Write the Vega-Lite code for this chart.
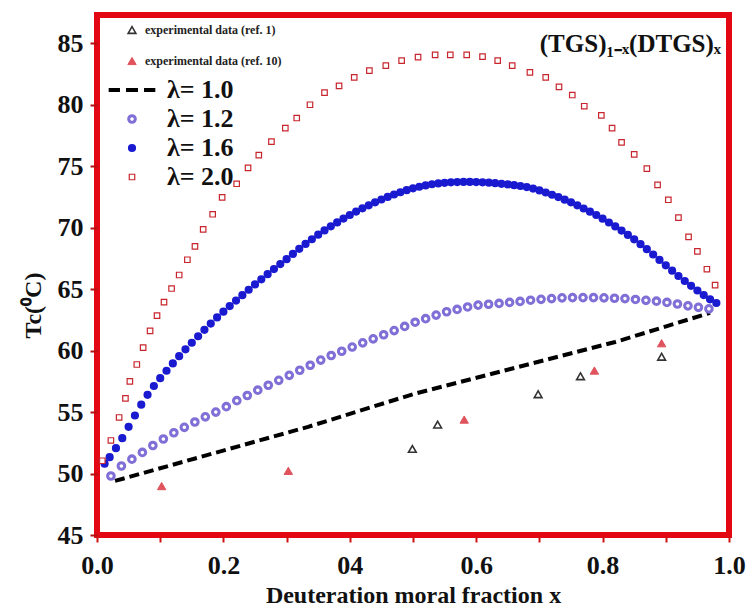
{
  "$schema": "https://vega.github.io/schema/vega-lite/v6.json",
  "width": 632,
  "height": 520,
  "autosize": {"type": "none"},
  "padding": {"left": 97, "top": 15, "right": 22, "bottom": 75},
  "background": "white",
  "title": {"text": "(TGS)₁₋ₓ(DTGS)ₓ", "anchor": "end", "frame": "group", "font": "Liberation Serif", "fontSize": 25, "fontWeight": "bold", "color": "#111111", "dy": 46, "dx": -8},
  "config": {
    "view": {"stroke": "#e30613", "strokeWidth": 6},
    "font": "Liberation Serif"
  },
  "data": {"values": [
    {"s":"λ= 1.0","x":0.0285,"y":49.4},{"s":"λ= 1.0","x":0.334,"y":53.8},{"s":"λ= 1.0","x":0.503,"y":56.5},{"s":"λ= 1.0","x":0.82,"y":60.7},{"s":"λ= 1.0","x":0.97,"y":63.07},
    {"s":"experimental data (ref. 1)","x":0.499,"y":52.0},{"s":"experimental data (ref. 1)","x":0.539,"y":53.98},{"s":"experimental data (ref. 1)","x":0.698,"y":56.45},{"s":"experimental data (ref. 1)","x":0.765,"y":57.91},{"s":"experimental data (ref. 1)","x":0.8934,"y":59.5},
    {"s":"experimental data (ref. 10)","x":0.1023,"y":48.98},{"s":"experimental data (ref. 10)","x":0.3027,"y":50.22},{"s":"experimental data (ref. 10)","x":0.581,"y":54.39},{"s":"experimental data (ref. 10)","x":0.787,"y":58.38},{"s":"experimental data (ref. 10)","x":0.8934,"y":60.6},
    {"s":"λ= 1.2","x":0.022,"y":49.8},{"s":"λ= 1.2","x":0.0386,"y":50.61},{"s":"λ= 1.2","x":0.0552,"y":51.17},{"s":"λ= 1.2","x":0.0718,"y":51.72},{"s":"λ= 1.2","x":0.0884,"y":52.28},{"s":"λ= 1.2","x":0.105,"y":52.81},{"s":"λ= 1.2","x":0.1216,"y":53.32},{"s":"λ= 1.2","x":0.1382,"y":53.76},{"s":"λ= 1.2","x":0.1548,"y":54.19},{"s":"λ= 1.2","x":0.1714,"y":54.61},{"s":"λ= 1.2","x":0.188,"y":55.0},{"s":"λ= 1.2","x":0.2046,"y":55.44},{"s":"λ= 1.2","x":0.2212,"y":55.93},{"s":"λ= 1.2","x":0.2378,"y":56.35},{"s":"λ= 1.2","x":0.2544,"y":56.78},{"s":"λ= 1.2","x":0.271,"y":57.18},{"s":"λ= 1.2","x":0.2876,"y":57.58},{"s":"λ= 1.2","x":0.3042,"y":57.99},{"s":"λ= 1.2","x":0.3208,"y":58.4},{"s":"λ= 1.2","x":0.3374,"y":58.81},{"s":"λ= 1.2","x":0.354,"y":59.23},{"s":"λ= 1.2","x":0.3706,"y":59.6},{"s":"λ= 1.2","x":0.3872,"y":59.95},{"s":"λ= 1.2","x":0.4038,"y":60.29},{"s":"λ= 1.2","x":0.4204,"y":60.63},{"s":"λ= 1.2","x":0.437,"y":60.96},{"s":"λ= 1.2","x":0.4536,"y":61.29},{"s":"λ= 1.2","x":0.4702,"y":61.63},{"s":"λ= 1.2","x":0.4868,"y":61.97},{"s":"λ= 1.2","x":0.5034,"y":62.31},{"s":"λ= 1.2","x":0.52,"y":62.6},{"s":"λ= 1.2","x":0.5366,"y":62.89},{"s":"λ= 1.2","x":0.5532,"y":63.16},{"s":"λ= 1.2","x":0.5698,"y":63.35},{"s":"λ= 1.2","x":0.5864,"y":63.55},{"s":"λ= 1.2","x":0.603,"y":63.7},{"s":"λ= 1.2","x":0.6196,"y":63.77},{"s":"λ= 1.2","x":0.6362,"y":63.84},{"s":"λ= 1.2","x":0.6528,"y":63.92},{"s":"λ= 1.2","x":0.6694,"y":64.0},{"s":"λ= 1.2","x":0.686,"y":64.1},{"s":"λ= 1.2","x":0.7026,"y":64.17},{"s":"λ= 1.2","x":0.7192,"y":64.23},{"s":"λ= 1.2","x":0.7358,"y":64.29},{"s":"λ= 1.2","x":0.7524,"y":64.31},{"s":"λ= 1.2","x":0.769,"y":64.31},{"s":"λ= 1.2","x":0.7856,"y":64.31},{"s":"λ= 1.2","x":0.8022,"y":64.29},{"s":"λ= 1.2","x":0.8188,"y":64.26},{"s":"λ= 1.2","x":0.8354,"y":64.23},{"s":"λ= 1.2","x":0.852,"y":64.16},{"s":"λ= 1.2","x":0.8686,"y":64.09},{"s":"λ= 1.2","x":0.8852,"y":64.02},{"s":"λ= 1.2","x":0.9018,"y":63.92},{"s":"λ= 1.2","x":0.9184,"y":63.79},{"s":"λ= 1.2","x":0.935,"y":63.64},{"s":"λ= 1.2","x":0.9516,"y":63.52},{"s":"λ= 1.2","x":0.9682,"y":63.4},
    {"s":"λ= 1.6","x":0.012,"y":50.8},{"s":"λ= 1.6","x":0.02,"y":51.33},{"s":"λ= 1.6","x":0.03,"y":52.06},{"s":"λ= 1.6","x":0.04,"y":52.88},{"s":"λ= 1.6","x":0.05,"y":53.8},{"s":"λ= 1.6","x":0.06,"y":54.72},{"s":"λ= 1.6","x":0.07,"y":55.6},{"s":"λ= 1.6","x":0.08,"y":56.4},{"s":"λ= 1.6","x":0.09,"y":57.12},{"s":"λ= 1.6","x":0.1,"y":57.76},{"s":"λ= 1.6","x":0.11,"y":58.36},{"s":"λ= 1.6","x":0.12,"y":58.96},{"s":"λ= 1.6","x":0.13,"y":59.55},{"s":"λ= 1.6","x":0.14,"y":60.1},{"s":"λ= 1.6","x":0.15,"y":60.64},{"s":"λ= 1.6","x":0.16,"y":61.17},{"s":"λ= 1.6","x":0.17,"y":61.69},{"s":"λ= 1.6","x":0.18,"y":62.2},{"s":"λ= 1.6","x":0.19,"y":62.7},{"s":"λ= 1.6","x":0.2,"y":63.17},{"s":"λ= 1.6","x":0.21,"y":63.62},{"s":"λ= 1.6","x":0.22,"y":64.07},{"s":"λ= 1.6","x":0.23,"y":64.51},{"s":"λ= 1.6","x":0.24,"y":64.95},{"s":"λ= 1.6","x":0.25,"y":65.38},{"s":"λ= 1.6","x":0.26,"y":65.8},{"s":"λ= 1.6","x":0.27,"y":66.22},{"s":"λ= 1.6","x":0.28,"y":66.63},{"s":"λ= 1.6","x":0.29,"y":67.04},{"s":"λ= 1.6","x":0.3,"y":67.44},{"s":"λ= 1.6","x":0.31,"y":67.87},{"s":"λ= 1.6","x":0.32,"y":68.28},{"s":"λ= 1.6","x":0.33,"y":68.68},{"s":"λ= 1.6","x":0.34,"y":69.06},{"s":"λ= 1.6","x":0.35,"y":69.43},{"s":"λ= 1.6","x":0.36,"y":69.78},{"s":"λ= 1.6","x":0.37,"y":70.11},{"s":"λ= 1.6","x":0.38,"y":70.43},{"s":"λ= 1.6","x":0.39,"y":70.74},{"s":"λ= 1.6","x":0.4,"y":71.03},{"s":"λ= 1.6","x":0.41,"y":71.31},{"s":"λ= 1.6","x":0.42,"y":71.57},{"s":"λ= 1.6","x":0.43,"y":71.82},{"s":"λ= 1.6","x":0.44,"y":72.06},{"s":"λ= 1.6","x":0.45,"y":72.29},{"s":"λ= 1.6","x":0.46,"y":72.5},{"s":"λ= 1.6","x":0.47,"y":72.7},{"s":"λ= 1.6","x":0.48,"y":72.88},{"s":"λ= 1.6","x":0.49,"y":73.05},{"s":"λ= 1.6","x":0.5,"y":73.2},{"s":"λ= 1.6","x":0.51,"y":73.33},{"s":"λ= 1.6","x":0.52,"y":73.44},{"s":"λ= 1.6","x":0.53,"y":73.53},{"s":"λ= 1.6","x":0.54,"y":73.6},{"s":"λ= 1.6","x":0.55,"y":73.65},{"s":"λ= 1.6","x":0.56,"y":73.69},{"s":"λ= 1.6","x":0.57,"y":73.71},{"s":"λ= 1.6","x":0.58,"y":73.72},{"s":"λ= 1.6","x":0.59,"y":73.72},{"s":"λ= 1.6","x":0.6,"y":73.71},{"s":"λ= 1.6","x":0.61,"y":73.69},{"s":"λ= 1.6","x":0.62,"y":73.66},{"s":"λ= 1.6","x":0.63,"y":73.62},{"s":"λ= 1.6","x":0.64,"y":73.57},{"s":"λ= 1.6","x":0.65,"y":73.52},{"s":"λ= 1.6","x":0.66,"y":73.46},{"s":"λ= 1.6","x":0.67,"y":73.39},{"s":"λ= 1.6","x":0.68,"y":73.3},{"s":"λ= 1.6","x":0.69,"y":73.18},{"s":"λ= 1.6","x":0.7,"y":73.03},{"s":"λ= 1.6","x":0.71,"y":72.86},{"s":"λ= 1.6","x":0.72,"y":72.68},{"s":"λ= 1.6","x":0.73,"y":72.49},{"s":"λ= 1.6","x":0.74,"y":72.28},{"s":"λ= 1.6","x":0.75,"y":72.06},{"s":"λ= 1.6","x":0.76,"y":71.82},{"s":"λ= 1.6","x":0.77,"y":71.56},{"s":"λ= 1.6","x":0.78,"y":71.3},{"s":"λ= 1.6","x":0.79,"y":71.03},{"s":"λ= 1.6","x":0.8,"y":70.73},{"s":"λ= 1.6","x":0.81,"y":70.42},{"s":"λ= 1.6","x":0.82,"y":70.1},{"s":"λ= 1.6","x":0.83,"y":69.76},{"s":"λ= 1.6","x":0.84,"y":69.41},{"s":"λ= 1.6","x":0.85,"y":69.05},{"s":"λ= 1.6","x":0.86,"y":68.66},{"s":"λ= 1.6","x":0.87,"y":68.25},{"s":"λ= 1.6","x":0.88,"y":67.82},{"s":"λ= 1.6","x":0.89,"y":67.38},{"s":"λ= 1.6","x":0.9,"y":66.94},{"s":"λ= 1.6","x":0.91,"y":66.5},{"s":"λ= 1.6","x":0.92,"y":66.07},{"s":"λ= 1.6","x":0.93,"y":65.66},{"s":"λ= 1.6","x":0.94,"y":65.27},{"s":"λ= 1.6","x":0.95,"y":64.89},{"s":"λ= 1.6","x":0.96,"y":64.52},{"s":"λ= 1.6","x":0.97,"y":64.17},{"s":"λ= 1.6","x":0.98,"y":63.87},
    {"s":"λ= 2.0","x":0.0084,"y":51.04},{"s":"λ= 2.0","x":0.022,"y":52.69},{"s":"λ= 2.0","x":0.035,"y":54.56},{"s":"λ= 2.0","x":0.045,"y":56.12},{"s":"λ= 2.0","x":0.052,"y":57.5},{"s":"λ= 2.0","x":0.063,"y":58.87},{"s":"λ= 2.0","x":0.073,"y":60.24},{"s":"λ= 2.0","x":0.084,"y":61.6},{"s":"λ= 2.0","x":0.095,"y":62.85},{"s":"λ= 2.0","x":0.106,"y":63.95},{"s":"λ= 2.0","x":0.118,"y":65.05},{"s":"λ= 2.0","x":0.13,"y":66.15},{"s":"λ= 2.0","x":0.143,"y":67.39},{"s":"λ= 2.0","x":0.155,"y":68.48},{"s":"λ= 2.0","x":0.168,"y":69.86},{"s":"λ= 2.0","x":0.183,"y":71.09},{"s":"λ= 2.0","x":0.198,"y":72.47},{"s":"λ= 2.0","x":0.221,"y":73.57},{"s":"λ= 2.0","x":0.239,"y":74.86},{"s":"λ= 2.0","x":0.256,"y":75.9},{"s":"λ= 2.0","x":0.276,"y":77.0},{"s":"λ= 2.0","x":0.298,"y":78.1},{"s":"λ= 2.0","x":0.316,"y":78.92},{"s":"λ= 2.0","x":0.337,"y":80.0},{"s":"λ= 2.0","x":0.36,"y":80.98},{"s":"λ= 2.0","x":0.383,"y":81.53},{"s":"λ= 2.0","x":0.407,"y":82.22},{"s":"λ= 2.0","x":0.431,"y":82.77},{"s":"λ= 2.0","x":0.457,"y":83.18},{"s":"λ= 2.0","x":0.482,"y":83.59},{"s":"λ= 2.0","x":0.508,"y":83.87},{"s":"λ= 2.0","x":0.535,"y":84.06},{"s":"λ= 2.0","x":0.559,"y":84.06},{"s":"λ= 2.0","x":0.585,"y":84.06},{"s":"λ= 2.0","x":0.61,"y":83.92},{"s":"λ= 2.0","x":0.634,"y":83.59},{"s":"λ= 2.0","x":0.657,"y":83.18},{"s":"λ= 2.0","x":0.685,"y":82.63},{"s":"λ= 2.0","x":0.71,"y":82.22},{"s":"λ= 2.0","x":0.731,"y":81.45},{"s":"λ= 2.0","x":0.752,"y":80.79},{"s":"λ= 2.0","x":0.771,"y":79.88},{"s":"λ= 2.0","x":0.798,"y":79.14},{"s":"λ= 2.0","x":0.815,"y":78.1},{"s":"λ= 2.0","x":0.83,"y":76.94},{"s":"λ= 2.0","x":0.85,"y":75.96},{"s":"λ= 2.0","x":0.87,"y":74.8},{"s":"λ= 2.0","x":0.887,"y":73.48},{"s":"λ= 2.0","x":0.904,"y":72.27},{"s":"λ= 2.0","x":0.92,"y":70.82},{"s":"λ= 2.0","x":0.936,"y":69.25},{"s":"λ= 2.0","x":0.95,"y":68.07},{"s":"λ= 2.0","x":0.965,"y":66.62},{"s":"λ= 2.0","x":0.978,"y":65.33}
  ]},
  "encoding": {
    "x": {"field": "x", "type": "quantitative",
      "scale": {"domain": [0, 1], "nice": false, "zero": false},
      "axis": {"values": [0,0.1,0.2,0.3,0.4,0.5,0.6,0.7,0.8,0.9,1.0],
        "labelExpr": "abs(datum.value-0.4)<0.01 ? '04' : (round(datum.value*10)%2==0 ? format(datum.value,'.1f') : '')",
        "labelOverlap": false, "labelFlush": false,
        "labelFont": "Liberation Serif", "labelFontSize": 26, "labelFontWeight": "bold", "labelColor": "#111111", "labelPadding": 10,
        "tickColor": "#d01010", "tickSize": 7, "tickWidth": 2, "domain": false, "grid": false,
        "title": "Deuteration moral fraction x", "titleFont": "Liberation Serif", "titleFontSize": 24, "titleFontWeight": "bold", "titleColor": "#111111", "titlePadding": 5}},
    "y": {"field": "y", "type": "quantitative",
      "scale": {"domain": [45, 87.3], "nice": false, "zero": false},
      "axis": {"values": [45,50,55,60,65,70,75,80,85],
        "labelFont": "Liberation Serif", "labelFontSize": 26, "labelFontWeight": "bold", "labelColor": "#111111", "labelPadding": 7,
        "tickColor": "#b01010", "tickSize": 7, "tickWidth": 2, "domain": false, "grid": false,
        "title": "Tc(⁰C)", "titleFont": "Liberation Serif", "titleFontSize": 24, "titleFontWeight": "bold", "titleColor": "#111111", "titlePadding": 12, "titleY": 290}}
  },
  "layer": [
    {
      "transform": [{"filter": "datum.s === 'λ= 1.0'"}],
      "mark": {"type": "line", "color": "#000000", "strokeWidth": 4, "strokeDash": [10, 5]},
      "encoding": {}
    },
    {
      "transform": [{"filter": "datum.s === 'λ= 1.2' || datum.s === 'λ= 1.6' || datum.s === 'λ= 2.0'"}],
      "mark": {"type": "point", "opacity": 1},
      "encoding": {
        "shape": {"field": "s", "type": "nominal",
          "scale": {"domain": ["λ= 1.0","λ= 1.2","λ= 1.6","λ= 2.0"], "range": ["M-6.6,0H-3.4M-1.7,0H1.7M3.4,0H6.6","circle","circle","square"]},
          "legend": {"orient": "none", "legendX": 22, "legendY": 62, "title": null, "labelFont": "Liberation Serif", "labelFontSize": 26, "labelFontWeight": "bold", "labelColor": "#111111", "labelOffset": 22, "rowPadding": 3, "padding": 0}},
        "stroke": {"field": "s", "type": "nominal",
          "scale": {"domain": ["λ= 1.0","λ= 1.2","λ= 1.6","λ= 2.0"], "range": ["#000000","#7f6fd6","#1a1ad0","#c8262e"]}},
        "fill": {"field": "s", "type": "nominal",
          "scale": {"domain": ["λ= 1.0","λ= 1.2","λ= 1.6","λ= 2.0"], "range": ["transparent","#ffffff","#1a1ad0","#ffffff"]}},
        "size": {"field": "s", "type": "nominal",
          "scale": {"domain": ["λ= 1.0","λ= 1.2","λ= 1.6","λ= 2.0"], "range": [50, 30, 28, 62]}},
        "strokeWidth": {"field": "s", "type": "nominal",
          "scale": {"domain": ["λ= 1.0","λ= 1.2","λ= 1.6","λ= 2.0"], "range": [4, 1.2, 1, 2.6]}}
      }
    },
    {
      "transform": [{"filter": "indexof(datum.s, 'experimental') === 0"}],
      "mark": {"type": "point", "opacity": 1},
      "encoding": {
        "shape": {"field": "s", "type": "nominal",
          "scale": {"domain": ["experimental data (ref. 1)","experimental data (ref. 10)"], "range": ["triangle-up","triangle-up"]},
          "legend": {"orient": "none", "legendX": 29, "legendY": 9, "title": null, "labelFont": "Liberation Serif", "labelFontSize": 12, "labelFontWeight": "bold", "labelColor": "#222222", "labelOffset": 7, "rowPadding": 18, "padding": 0}},
        "stroke": {"field": "s", "type": "nominal",
          "scale": {"domain": ["experimental data (ref. 1)","experimental data (ref. 10)"], "range": ["#333333","#e0525c"]}},
        "fill": {"field": "s", "type": "nominal",
          "scale": {"domain": ["experimental data (ref. 1)","experimental data (ref. 10)"], "range": ["transparent","#e0525c"]}},
        "size": {"field": "s", "type": "nominal",
          "scale": {"domain": ["experimental data (ref. 1)","experimental data (ref. 10)"], "range": [60, 70]}},
        "strokeWidth": {"field": "s", "type": "nominal",
          "scale": {"domain": ["experimental data (ref. 1)","experimental data (ref. 10)"], "range": [1.6, 1]}}
      }
    }
  ],
  "resolve": {"scale": {"shape": "independent", "stroke": "independent", "fill": "independent", "size": "independent", "strokeWidth": "independent"}, "legend": {"shape": "independent"}}
}
